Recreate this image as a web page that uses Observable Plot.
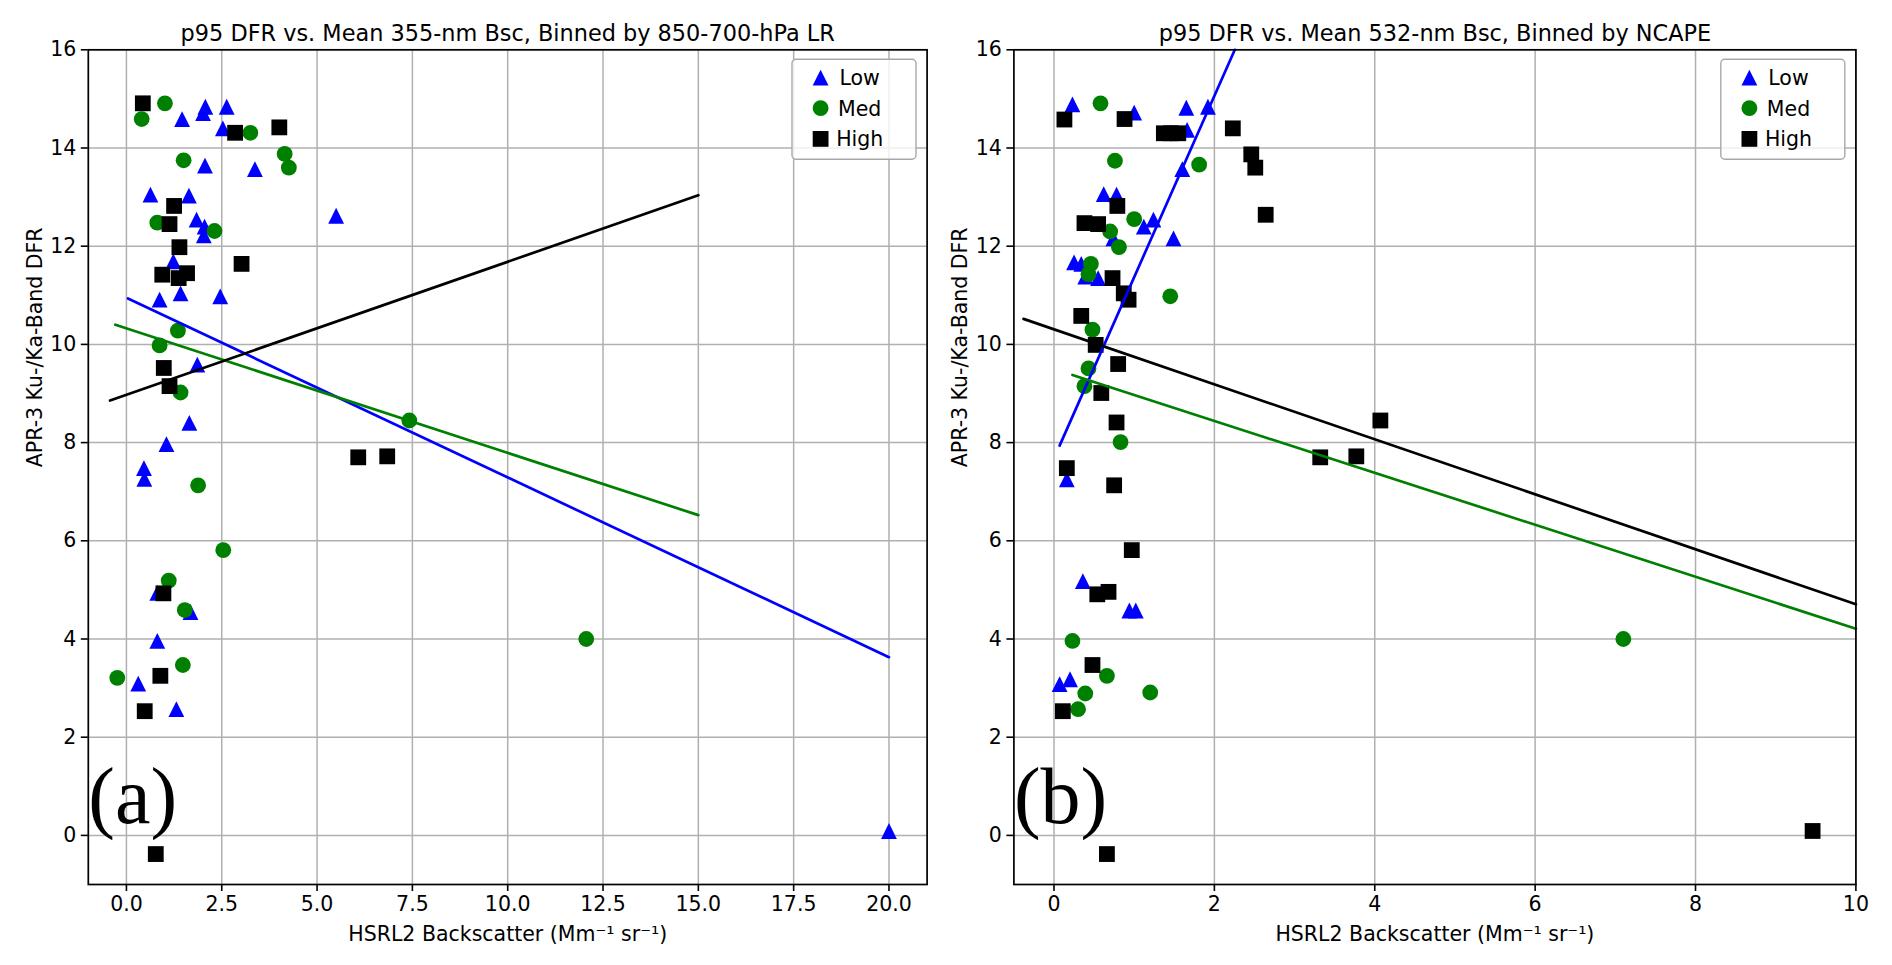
<!DOCTYPE html>
<html>
<head>
<meta charset="utf-8">
<script src="https://cdn.jsdelivr.net/npm/d3@7"></script>
<script src="https://cdn.jsdelivr.net/npm/@observablehq/plot@0.6"></script>
<style>
html, body { margin: 0; padding: 0; background: #fff; }
#wrap { position: relative; width: 1892px; height: 965px; overflow: hidden; background: #fff; }
.pane { position: absolute; top: 0; width: 946px; height: 965px; }
</style>
</head>
<body>
<div id="wrap">
  <div class="pane" id="pa" style="left:0px"></div>
  <div class="pane" id="pb" style="left:946px"></div>
</div>
<script>
// ---------------- data ----------------
const categories = ["Low", "Med", "High"];
const colors = ["blue", "green", "black"];
const yTicks = [0, 2, 4, 6, 8, 10, 12, 14, 16];
const xTicksA = [0, 2.5, 5, 7.5, 10, 12.5, 15, 17.5, 20];
const xTicksB = [0, 2, 4, 6, 8, 10];
const titleA = "p95 DFR vs. Mean 355-nm Bsc, Binned by 850-700-hPa LR";
const titleB = "p95 DFR vs. Mean 532-nm Bsc, Binned by NCAPE";
const xLabel = "HSRL2 Backscatter (Mm\u207B\u00B9 sr\u207B\u00B9)";
const yLabel = "APR-3 Ku-/Ka-Band DFR";
const tags = ["(a)", "(b)"];

// Panel (a): binned by 850-700-hPa lapse rate
const aLowX  = [1.46, 2.07, 2.01, 2.63, 2.53, 2.06, 3.37, 0.63, 1.64, 1.84, 2.05, 2.03, 5.50, 1.23, 0.87, 1.42, 2.46, 1.86, 1.65, 1.05, 0.46, 0.47, 0.81, 1.68, 0.81, 0.31, 1.31, 20.0];
const aLowY  = [14.59, 14.84, 14.71, 14.84, 14.40, 13.64, 13.57, 13.05, 13.03, 12.54, 12.40, 12.22, 12.62, 11.69, 10.91, 11.04, 10.98, 9.59, 8.40, 7.97, 7.48, 7.26, 4.94, 4.55, 3.96, 3.09, 2.57, 0.09];
const aMedX  = [1.01, 0.40, 3.25, 4.15, 4.26, 1.50, 0.81, 2.31, 1.35, 0.87, 1.42, 1.88, 2.54, 1.11, 1.53, 1.48, -0.24, 7.42, 12.06];
const aMedY  = [14.91, 14.59, 14.31, 13.88, 13.60, 13.75, 12.48, 12.31, 10.28, 9.98, 9.02, 7.13, 5.81, 5.19, 4.59, 3.47, 3.21, 8.45, 4.00];
const aHighX = [0.43, 2.85, 4.01, 1.25, 1.13, 1.39, 3.02, 0.94, 1.37, 1.59, 0.98, 1.13, 6.08, 6.84, 0.97, 0.89, 0.48, 0.77];
const aHighY = [14.91, 14.31, 14.42, 12.82, 12.45, 11.98, 11.64, 11.42, 11.35, 11.45, 9.52, 9.15, 7.70, 7.72, 4.93, 3.25, 2.53, -0.38];
// linear fits (Low, Med, High)
const aFitSlope     = [-0.366, -0.2536, 0.271];
const aFitIntercept = [10.95, 10.327, 8.973];
const aFitX0        = [0.04, -0.29, -0.43];
const aFitX1        = [20.0, 15.0, 15.0];

// Panel (b): binned by NCAPE
const bLowX  = [0.23, 1.00, 1.65, 1.92, 1.66, 1.60, 0.62, 0.78, 1.12, 1.24, 1.49, 0.74, 0.25, 0.34, 0.39, 0.55, 0.16, 0.36, 0.94, 1.02, 0.07, 0.20];
const bLowY  = [14.89, 14.72, 14.82, 14.84, 14.37, 13.57, 13.06, 13.05, 12.40, 12.54, 12.16, 12.16, 11.67, 11.64, 11.38, 11.35, 7.25, 5.18, 4.58, 4.58, 3.08, 3.18];
const bMedX  = [0.58, 0.76, 1.81, 1.00, 0.70, 0.81, 0.46, 0.43, 1.45, 0.48, 0.43, 0.38, 0.83, 0.23, 0.66, 0.39, 1.20, 0.30, 7.10];
const bMedY  = [14.91, 13.74, 13.66, 12.55, 12.30, 11.98, 11.64, 11.43, 10.98, 10.30, 9.51, 9.15, 8.01, 3.96, 3.25, 2.89, 2.91, 2.57, 4.00];
const bHighX = [0.13, 0.88, 1.37, 1.46, 1.55, 2.23, 2.46, 2.51, 2.64, 0.79, 0.38, 0.55, 0.73, 0.87, 0.93, 0.34, 0.52, 0.80, 0.59, 0.78, 0.16, 0.75, 0.97, 0.54, 0.68, 0.48, 0.11, 0.66, 9.46, 3.32, 3.77, 4.07];
const bHighY = [14.58, 14.59, 14.30, 14.30, 14.30, 14.40, 13.87, 13.60, 12.64, 12.82, 12.47, 12.45, 11.35, 11.04, 10.91, 10.58, 9.99, 9.60, 9.01, 8.41, 7.48, 7.13, 5.81, 4.91, 4.96, 3.47, 2.53, -0.38, 0.09, 7.70, 7.72, 8.45];
const bFitSlope     = [3.69, -0.529, -0.560];
const bFitIntercept = [7.68, 9.50, 10.307];
const bFitX0        = [0.07, 0.23, -0.38];
const bFitX1        = [2.60, 10.0, 10.0];

// ---------------- helpers ----------------
const pts = (xs, ys) => xs.map((x, i) => ({x, y: ys[i]}));
const Y_MAX = 16;
function fitLine(m, b, x0, x1) {
  let xe = x1;
  if (m > 0 && b + m * x1 > Y_MAX) xe = (Y_MAX - b) / m;
  return [{x: x0, y: b + m * x0}, {x: xe, y: b + m * xe}];
}
const R = 7.9;
const symbols = [
  {draw(ctx, size) { const r = Math.sqrt(size / Math.PI); ctx.moveTo(0, -r); ctx.lineTo(r, r); ctx.lineTo(-r, r); ctx.closePath(); }},
  {draw(ctx, size) { const r = Math.sqrt(size / Math.PI); ctx.moveTo(r, 0); ctx.arc(0, 0, r, 0, 2 * Math.PI); ctx.closePath(); }},
  {draw(ctx, size) { const r = Math.sqrt(size / Math.PI); ctx.rect(-r, -r, 2 * r, 2 * r); }}
];

const FONT = "DejaVu Sans";
const H = 965, MT = 49.3, MB = 81;

function addLegend(svg, frameRight) {
  const g = d3.select(svg).append("g");
  const bw = 124, bh = 100;
  const bx = frameRight - 10.6 - bw, by = MT + 10;
  g.append("rect").attr("x", bx).attr("y", by).attr("width", bw).attr("height", bh)
    .attr("rx", 4).attr("fill", "rgba(255,255,255,0.8)").attr("stroke", "#a8a8a8").attr("stroke-width", 1.4);
  const rows = [28.4, 58.9, 89.6];
  categories.forEach((c, i) => {
    const cy = MT + rows[i];
    const p = d3.path();
    symbols[i].draw(p, Math.PI * R * R);
    g.append("path").attr("d", p.toString()).attr("transform", `translate(${bx + 28.6},${cy})`).attr("fill", colors[i]);
    g.append("text").attr("x", bx + 67.7).attr("y", cy).attr("dy", "0.36em")
      .attr("font-family", FONT).attr("font-size", 20.5).attr("fill", "#000").text(c);
  });
}

function panel({width, mL, mR, xDomain, xTicks, xFormat, groups, fits, title, tag}) {
  const marks = [
    Plot.gridX({ticks: xTicks, stroke: "#b0b0b0", strokeOpacity: 1, strokeWidth: 1.5}),
    Plot.gridY({ticks: yTicks, stroke: "#b0b0b0", strokeOpacity: 1, strokeWidth: 1.5}),
    ...groups.map((g, i) => Plot.dot(g, {x: "x", y: "y", r: R, fill: colors[i], symbol: symbols[i]})),
    ...fits.map((f, i) => Plot.line(f, {x: "x", y: "y", stroke: colors[i], strokeWidth: 2.7})),
    Plot.frame({stroke: "#000", strokeWidth: 1.7}),
    Plot.axisX({ticks: xTicks, tickFormat: xFormat, tickSize: 7, tickPadding: 5, strokeWidth: 1.6, label: null}),
    Plot.axisY({ticks: yTicks, tickFormat: d3.format("d"), tickSize: 7, tickPadding: 5, strokeWidth: 1.6, label: null}),
    Plot.text([title], {text: d => d, frameAnchor: "top", lineAnchor: "bottom", dy: -9, fontSize: 22.4}),
    Plot.text([xLabel], {text: d => d, frameAnchor: "bottom", lineAnchor: "bottom", dy: 56, fontSize: 20.5}),
    Plot.text([yLabel], {text: d => d, frameAnchor: "left", rotate: -90, dx: -53, fontSize: 20.5}),
    Plot.text([tag], {text: d => d, frameAnchor: "bottom-left", textAnchor: "start", lineAnchor: "bottom", dx: 0, dy: -61.3, fontSize: 80, fontFamily: "Liberation Serif"})
  ];
  const svg = Plot.plot({
    width, height: H,
    marginLeft: mL, marginRight: mR, marginTop: MT, marginBottom: MB,
    x: {domain: xDomain},
    y: {domain: [-1, 16]},
    style: {fontFamily: FONT, fontSize: "20.5px", color: "#000", background: "#fff", overflow: "visible"},
    marks
  });
  addLegend(svg, width - mR);
  return svg;
}

const fitsA = aFitSlope.map((m, i) => fitLine(m, aFitIntercept[i], aFitX0[i], aFitX1[i]));
const fitsB = bFitSlope.map((m, i) => fitLine(m, bFitIntercept[i], bFitX0[i], bFitX1[i]));

document.getElementById("pa").appendChild(panel({
  width: 946, mL: 87.8, mR: 19.4, xDomain: [-1, 21], xTicks: xTicksA, xFormat: d3.format(".1f"),
  groups: [pts(aLowX, aLowY), pts(aMedX, aMedY), pts(aHighX, aHighY)],
  fits: fitsA, title: titleA, tag: tags[0]
}));
document.getElementById("pb").appendChild(panel({
  width: 946, mL: 67.4, mR: 36.6, xDomain: [-0.5, 10], xTicks: xTicksB, xFormat: d3.format("d"),
  groups: [pts(bLowX, bLowY), pts(bMedX, bMedY), pts(bHighX, bHighY)],
  fits: fitsB, title: titleB, tag: tags[1]
}));
</script>
</body>
</html>
